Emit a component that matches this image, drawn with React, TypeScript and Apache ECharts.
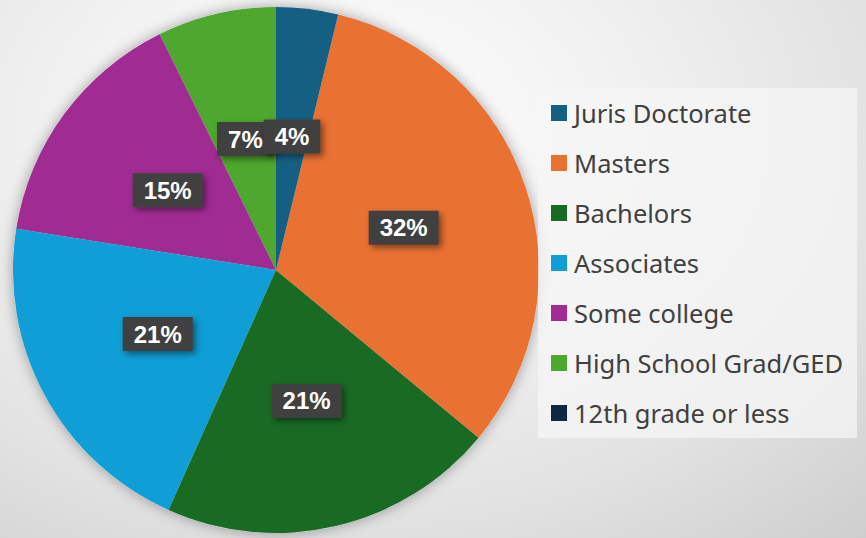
import React, { useEffect, useRef } from "react";
import * as echarts from "echarts";

const categories = [
  "Juris Doctorate",
  "Masters",
  "Bachelors",
  "Associates",
  "Some college",
  "High School Grad/GED",
  "12th grade or less",
];
const shares = [3.8, 32.2, 20.7, 20.8, 15.2, 7.3, 0];
const colors = ["#156082", "#E97132", "#196B24", "#0F9ED5", "#A02B93", "#4EA72E", "#0E2841"];

export default function App() {
  const ref = useRef<HTMLDivElement>(null);
  useEffect(() => {
    if (!ref.current) return;
    const chart = echarts.init(ref.current, undefined, { renderer: "svg" });
    const center = [276, 270];
    const radius = 263;
    const items = categories.map((c, i) => ({
      name: c,
      value: shares[i],
      itemStyle: { color: colors[i] },
      label: shares[i] === 0 ? { show: false } : undefined,
    }));
    chart.setOption({
      animation: false,
      legend: {
        orient: "vertical",
        left: 538,
        top: 88,
        itemWidth: 16,
        itemHeight: 16,
        itemGap: 24,
        padding: [12, 14, 12, 13],
        backgroundColor: "rgba(245,245,245,0.75)",
        icon: "rect",
        data: categories,
        textStyle: {
          fontFamily: "Noto Sans",
          fontSize: 25.5,
          lineHeight: 26,
          color: "#404040",
          padding: [0, 0, 0, 2],
        },
      },
      series: [
        {
          type: "pie",
          silent: true,
          center,
          radius,
          z: 1,
          label: { show: false },
          labelLine: { show: false },
          itemStyle: {
            color: "#dddddd",
            shadowBlur: 14,
            shadowColor: "rgba(0,0,0,0.35)",
          },
          data: [{ value: 1, name: "__bg" }],
          legendHoverLink: false,
        },
        {
          type: "pie",
          center,
          radius,
          z: 2,
          startAngle: 90,
          clockwise: false,
          avoidLabelOverlap: false,
          labelLayout: { hideOverlap: false },
          itemStyle: { borderWidth: 0 },
          label: {
            show: true,
            position: "inside",
            formatter: (p: any) => Math.round(p.value) + "%",
            color: "#ffffff",
            fontFamily: "Liberation Sans",
            fontWeight: "bold",
            fontSize: 24,
            lineHeight: 24,
            backgroundColor: "#404040",
            padding: [5, 11, 5, 11],
            shadowBlur: 6,
            shadowColor: "rgba(0,0,0,0.45)",
            shadowOffsetX: 3,
            shadowOffsetY: 3,
          },
          labelLine: { show: false },
          data: items.slice().reverse(),
        },
      ],
    });
    return () => chart.dispose();
  }, []);
  return (
    <div
      style={{
        position: "absolute",
        left: 0,
        top: 0,
        width: 866,
        height: 538,
        background:
          "radial-gradient(ellipse 95% 110% at 40% 25%, #ffffff 0%, #f1f1f1 35%, #e2e2e2 65%, #c9c9c9 100%)",
      }}
    >
      <div ref={ref} style={{ width: 866, height: 538 }} />
    </div>
  );
}
